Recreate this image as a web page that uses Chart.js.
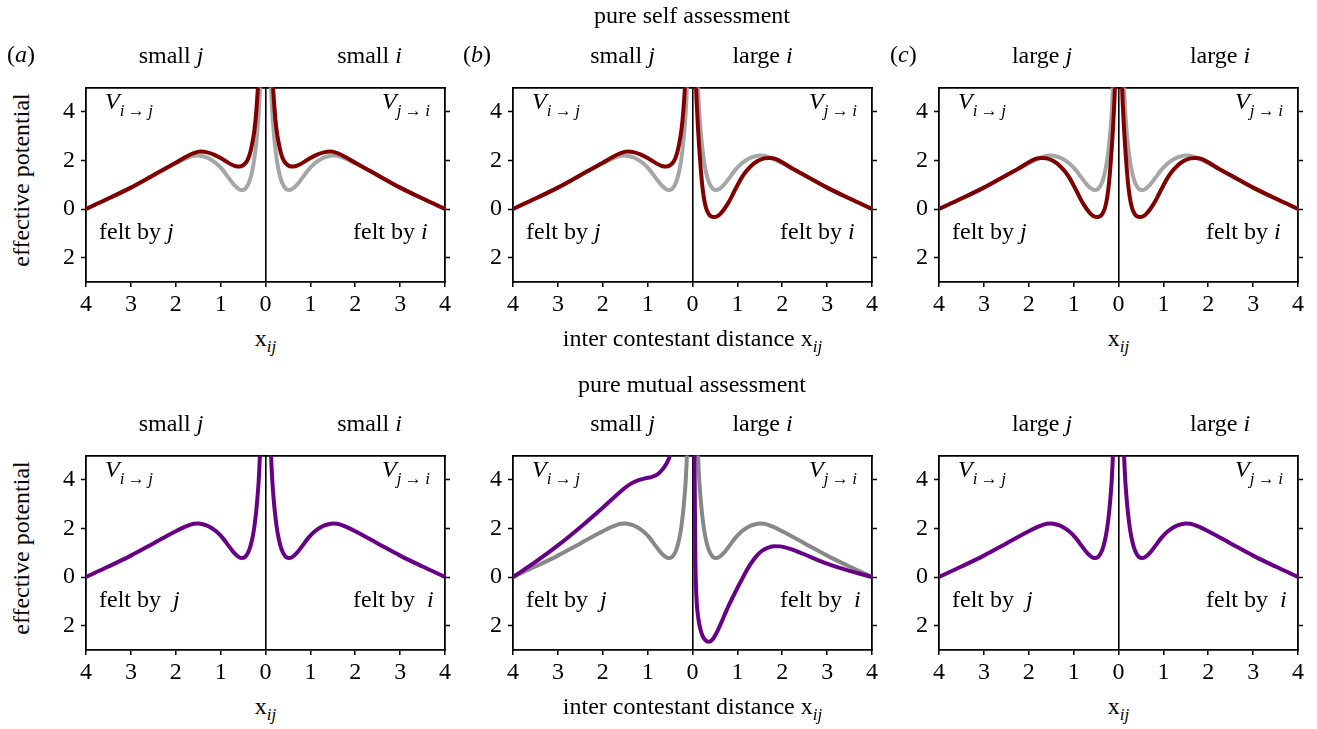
<!DOCTYPE html>
<html lang="en">
<head>
<meta charset="UTF-8">
<title>Effective potential felt by contestants</title>
<script src="https://cdn.jsdelivr.net/npm/chart.js"></script>
<style>
  body { margin: 0; background: #fff; color: #000; font-family: 'Liberation Serif', 'Times New Roman', serif; }
  #page { position: relative; width: 1317px; height: 729px; overflow: hidden; }
  #page canvas { position: absolute; }
  .lab { position: absolute; font-size: 24px; line-height: 24px; white-space: nowrap; }
  .sb { font-size: 17px; position: relative; top: 7px; font-style: italic; }
  .ysb { font-size: 17px; position: relative; top: 6px; font-style: italic; }
</style>
</head>
<body>
<div id="page"></div>
<script>
// ---- data: potential branches, x = inter contestant distance ----
// equal-size (reference) curve
const greyX = [-4, -3.5, -3, -2.5, -2, -1.8, -1.6, -1.5, -1.4, -1.25, -1.1, -0.95, -0.82, -0.7, -0.6, -0.53, -0.46, -0.4, -0.34, -0.29, -0.25, -0.21, -0.18, -0.15, -0.12, -0.09,
               0.09, 0.12, 0.15, 0.18, 0.21, 0.25, 0.29, 0.34, 0.4, 0.46, 0.53, 0.6, 0.7, 0.82, 0.95, 1.1, 1.25, 1.4, 1.5, 1.6, 1.8, 2, 2.5, 3, 3.5, 4];
const greyY = [0, 0.43, 0.88, 1.38, 1.88, 2.06, 2.19, 2.2, 2.17, 2.07, 1.88, 1.6, 1.28, 0.99, 0.83, 0.78, 0.82, 0.96, 1.24, 1.62, 2.05, 2.65, 3.25, 4.0, 5.2, 7.0,
               7.0, 5.2, 4.0, 3.25, 2.65, 2.05, 1.62, 1.24, 0.96, 0.82, 0.78, 0.83, 0.99, 1.28, 1.6, 1.88, 2.07, 2.17, 2.2, 2.19, 2.06, 1.88, 1.38, 0.88, 0.43, 0];

// self assessment, small contestant
const selfSmallLX = [-4, -3.5, -3, -2.5, -2, -1.8, -1.6, -1.45, -1.3, -1.15, -1, -0.88, -0.76, -0.66, -0.58, -0.5, -0.44, -0.38, -0.33, -0.29, -0.25, -0.22, -0.19, -0.16, -0.12];
const selfSmallLY = [0, 0.43, 0.88, 1.39, 1.9, 2.12, 2.3, 2.36, 2.33, 2.24, 2.1, 1.96, 1.83, 1.76, 1.75, 1.8, 1.9, 2.1, 2.4, 2.75, 3.2, 3.7, 4.4, 5.3, 7.0];
const selfSmallRX = [0.12, 0.16, 0.19, 0.22, 0.25, 0.29, 0.33, 0.38, 0.44, 0.5, 0.58, 0.66, 0.76, 0.88, 1, 1.15, 1.3, 1.45, 1.6, 1.8, 2, 2.5, 3, 3.5, 4];
const selfSmallRY = [7.0, 5.3, 4.4, 3.7, 3.2, 2.75, 2.4, 2.1, 1.9, 1.8, 1.75, 1.76, 1.83, 1.96, 2.1, 2.24, 2.33, 2.36, 2.3, 2.12, 1.9, 1.39, 0.88, 0.43, 0];

// self assessment, large contestant
const selfLargeLX = [-4, -3.5, -3, -2.5, -2.25, -2, -1.85, -1.72, -1.6, -1.45, -1.3, -1.17, -1.08, -1, -0.92, -0.85, -0.78, -0.7, -0.62, -0.55, -0.48, -0.42, -0.36, -0.3, -0.25, -0.21, -0.18, -0.15, -0.12, -0.09, -0.07, -0.05];
const selfLargeLY = [0, 0.43, 0.88, 1.39, 1.64, 1.92, 2.06, 2.1, 2.08, 1.97, 1.76, 1.49, 1.24, 0.97, 0.69, 0.43, 0.2, -0.02, -0.2, -0.3, -0.33, -0.31, -0.2, 0.05, 0.5, 1.1, 1.75, 2.5, 3.4, 4.5, 5.5, 7.0];
const selfLargeRX = [0.05, 0.07, 0.09, 0.12, 0.15, 0.18, 0.21, 0.25, 0.3, 0.36, 0.42, 0.48, 0.55, 0.62, 0.7, 0.78, 0.85, 0.92, 1, 1.08, 1.17, 1.3, 1.45, 1.6, 1.72, 1.85, 2, 2.25, 2.5, 3, 3.5, 4];
const selfLargeRY = [7.0, 5.5, 4.5, 3.4, 2.5, 1.75, 1.1, 0.5, 0.05, -0.2, -0.31, -0.33, -0.3, -0.2, -0.02, 0.2, 0.43, 0.69, 0.97, 1.24, 1.49, 1.76, 1.97, 2.08, 2.1, 2.06, 1.92, 1.64, 1.39, 0.88, 0.43, 0];

// mutual assessment, small j vs large i
const mutualLX = [-4, -3.5, -3, -2.5, -2, -1.75, -1.55, -1.38, -1.2, -1.05, -0.9, -0.78, -0.68, -0.6, -0.53, -0.47, -0.4];
const mutualLY = [0, 0.62, 1.3, 2.05, 2.85, 3.27, 3.6, 3.83, 3.98, 4.06, 4.12, 4.22, 4.4, 4.6, 4.85, 5.2, 5.8];
const mutualRX = [0.03, 0.045, 0.055, 0.065, 0.08, 0.1, 0.13, 0.17, 0.22, 0.28, 0.36, 0.44, 0.52, 0.6, 0.7, 0.8, 0.9, 1, 1.1, 1.2, 1.3, 1.42, 1.55, 1.7, 1.82, 1.95, 2.1, 2.3, 2.6, 3, 3.5, 4];
const mutualRY = [9, 5, 2.5, 0.6, -0.5, -1.2, -1.7, -2.1, -2.4, -2.58, -2.66, -2.58, -2.35, -2.05, -1.62, -1.2, -0.82, -0.45, -0.1, 0.25, 0.55, 0.85, 1.08, 1.22, 1.27, 1.26, 1.2, 1.08, 0.85, 0.55, 0.25, 0];

const xTicks = [-4, -3, -2, -1, 0, 1, 2, 3, 4];
const yTicks = [-2, 0, 2, 4];

const rowTitles = ['pure self assessment', 'pure mutual assessment'];
const panelTags = ['a', 'b', 'c'];
const jSize = ['small', 'small', 'large'];
const iSize = ['small', 'large', 'large'];

// ---- layout ----
const colLeft = [86, 513, 939];
const rowTop = [77, 445];
const PW = 359, PH = 205;
const PAD_L = 50, PAD_R = 20, PAD_T = 10, PAD_B = 40;

const RED = '#800000', PURPLE = '#680087', GREY_LIGHT = '#a6a6a6', GREY_DARK = '#888888';

const page = document.getElementById('page');

function pts(xs, ys) { return xs.map((x, k) => ({ x: x, y: ys[k] })); }
function join(...parts) { return [].concat(...parts); }

function curve(data, color) {
  return {
    data: data, borderColor: color, borderWidth: 4, pointRadius: 0,
    cubicInterpolationMode: 'monotone', fill: false, clip: 0
  };
}

function label(html, x, baseline, align) {
  const d = document.createElement('div');
  d.className = 'lab';
  d.innerHTML = html;
  d.style.left = x + 'px';
  d.style.top = (baseline - 20) + 'px';
  if (align === 'c') d.style.transform = 'translateX(-50%)';
  if (align === 'r') d.style.transform = 'translateX(-100%)';
  page.appendChild(d);
  return d;
}

Chart.defaults.font.family = "'Liberation Serif', 'Times New Roman', serif";
Chart.defaults.font.size = 24;
Chart.defaults.color = '#000';

const tickGrid = { drawOnChartArea: false, tickLength: 5, tickColor: '#000', tickWidth: 1.5 };
const frame = { display: true, color: '#000', width: 1.8 };

function panel(row, col, datasets) {
  const c = document.createElement('canvas');
  c.width = PW + PAD_L + PAD_R;
  c.height = PH + PAD_T + PAD_B;
  c.style.left = (colLeft[col] - PAD_L) + 'px';
  c.style.top = (rowTop[row] - PAD_T) + 'px';
  page.appendChild(c);

  new Chart(c, {
    type: 'line',
    data: { datasets: datasets },
    options: {
      responsive: false, animation: false, devicePixelRatio: 1, events: [],
      layout: { padding: 0 },
      plugins: { legend: { display: false }, tooltip: { enabled: false } },
      scales: {
        x: {
          type: 'linear', position: 'bottom', min: -4, max: 4,
          afterBuildTicks: s => { s.ticks = xTicks.map(v => ({ value: v })); },
          afterFit: s => { s.height = PAD_B; },
          ticks: { callback: v => String(Math.abs(v)), autoSkip: false, maxRotation: 0, padding: 3 },
          grid: {
            drawOnChartArea: true, tickLength: 5, tickColor: '#000', tickWidth: 1.5,
            color: ctx => (ctx.tick && ctx.tick.value === 0 ? '#000' : 'rgba(0,0,0,0)'),
            lineWidth: 1.6
          },
          border: frame
        },
        x2: {
          type: 'linear', position: 'top', min: -4, max: 4,
          afterFit: s => { s.height = PAD_T; },
          ticks: { display: false }, grid: { display: false }, border: frame
        },
        y: {
          type: 'linear', position: 'left', min: -3, max: 5,
          afterBuildTicks: s => { s.ticks = yTicks.map(v => ({ value: v })); },
          afterFit: s => { s.width = PAD_L; },
          ticks: { callback: v => String(Math.abs(v)), padding: 6 },
          grid: tickGrid, border: frame
        },
        y2: {
          type: 'linear', position: 'right', min: -3, max: 5,
          afterBuildTicks: s => { s.ticks = yTicks.map(v => ({ value: v })); },
          afterFit: s => { s.width = PAD_R; },
          ticks: { display: false }, grid: tickGrid, border: frame
        }
      }
    }
  });

  // annotations inside and around the axes
  const L = colLeft[col], R = L + PW, T = rowTop[row], B = T + PH;
  const gap = row === 1 ? '&nbsp;&nbsp;' : ' ';
  label('<i>V</i><span class="sb">i&thinsp;→&thinsp;j</span>', L + 19, T + 32, 'l');
  label('<i>V</i><span class="sb">j&thinsp;→&thinsp;i</span>', L + 296, T + 32, 'l');
  label('felt by' + gap + '<i>j</i>', L + 13, T + 162, 'l');
  label('felt by' + gap + '<i>i</i>', L + 267, T + 162, 'l');

  const heads = [[171, 369.5], [622.5, 762.5], [1042, 1220]][col];
  label(jSize[col] + ' <i>j</i>', heads[0], T - 14, 'c');
  label(iSize[col] + ' <i>i</i>', heads[1], T - 14, 'c');

  const xt = col === 1 ? 'inter contestant distance x<span class="ysb">ij</span>' : 'x<span class="ysb">ij</span>';
  label(xt, L + PW / 2, B + 64, 'c');

  if (col === 0) {
    const d = label('effective potential', 21, T + PH / 2, 'c');
    d.style.top = (T + PH / 2 - 12) + 'px';
    d.style.transform = 'translateX(-50%) rotate(-90deg)';
  }
  if (row === 0) {
    const tagX = [7, 463, 890][col];
    label('(<i>' + panelTags[col] + '</i>)', tagX, T - 15, 'l');
  }
}

// top row: self assessment (grey = equal sizes)
const greyPts = pts(greyX, greyY);
panel(0, 0, [curve(join(pts(selfSmallLX, selfSmallLY), pts(selfSmallRX, selfSmallRY)), RED), curve(greyPts, GREY_LIGHT)]);
panel(0, 1, [curve(join(pts(selfSmallLX, selfSmallLY), pts(selfLargeRX, selfLargeRY)), RED), curve(greyPts, GREY_LIGHT)]);
panel(0, 2, [curve(join(pts(selfLargeLX, selfLargeLY), pts(selfLargeRX, selfLargeRY)), RED), curve(greyPts, GREY_LIGHT)]);

// bottom row: mutual assessment
panel(1, 0, [curve(greyPts, PURPLE)]);
panel(1, 1, [curve(join(pts(mutualLX, mutualLY), pts(mutualRX, mutualRY)), PURPLE), curve(greyPts, GREY_DARK)]);
panel(1, 2, [curve(greyPts, PURPLE)]);

label(rowTitles[0], 692, 23, 'c');
label(rowTitles[1], 692, 392, 'c');
</script>
</body>
</html>
